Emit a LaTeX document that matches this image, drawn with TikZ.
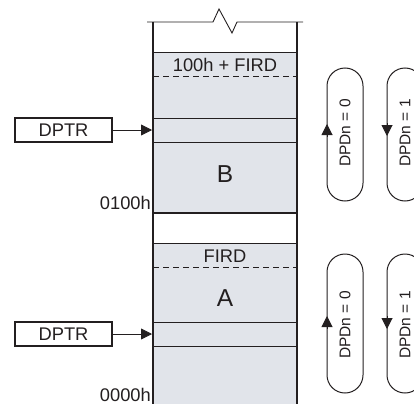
\documentclass[tikz,border=0pt]{standalone}
\usepackage{fontspec}
\setmainfont{Liberation Sans}
\usetikzlibrary{arrows.meta}
\definecolor{memgray}{RGB}{225,228,234}
\definecolor{ink}{RGB}{35,31,32}
\tikzset{
  lbl/.style={font=\fontsize{18.3}{21}\selectfont, text=ink, inner sep=0pt},
  big/.style={font=\fontsize{24.5}{28}\selectfont, text=ink, inner sep=0pt},
  rot/.style={font=\fontsize{15.5}{18}\selectfont, text=ink, inner sep=0pt, rotate=90},
  dptr/.style={draw=ink, line width=1.6pt, minimum width=97pt, minimum height=24pt, inner sep=0pt, font=\fontsize{18.3}{21}\selectfont, text=ink},
  ptr/.style={draw=ink, line width=0.8pt, -{Triangle[length=11pt,width=11pt]}},
  thinline/.style={draw=ink, line width=0.9pt},
  dashline/.style={draw=ink, line width=0.9pt, dash pattern=on 6pt off 4pt},
  sideline/.style={draw=ink, line width=2pt},
  loopline/.style={draw=ink, line width=1pt, rounded corners=18pt},
  looparrow/.style={draw=ink, line width=1pt, -{Triangle[length=11pt,width=11pt]}}
}
\begin{document}
\begin{tikzpicture}[x=1pt,y=-1pt]
\useasboundingbox (0,0) rectangle (414,404);
% memory column fills
\fill[memgray] (153,52) rectangle (297,213);
\fill[memgray] (153,243) rectangle (297,404);
% horizontal separators
\draw[thinline] (153,52) -- (297,52);
\draw[dashline] (153,76) -- (297,76);
\draw[thinline] (153,118) -- (297,118);
\draw[thinline] (153,142) -- (297,142);
\draw[sideline] (153,213) -- (297,213);
\draw[thinline] (153,243) -- (297,243);
\draw[dashline] (153,267) -- (297,267);
\draw[thinline] (153,322) -- (297,322);
\draw[thinline] (153,346) -- (297,346);
% top break line
\draw[thinline, line join=miter] (147,22) -- (213,22) -- (219,9) -- (232,33) -- (237,22) -- (303,22);
% sides
\draw[sideline] (153,22) -- (153,404);
\draw[sideline] (297,22) -- (297,404);
% labels in column
\node[lbl] (l100) at (225,65) {100h + FIRD};
\node[big] (lB) at (225,174) {B};
\node[lbl] (lfird) at (225,256) {FIRD};
\node[big] (lA) at (225,298) {A};
% address labels
\node[lbl, anchor=east] (a100) at (151,203) {0100h};
\node[lbl, anchor=east] (a000) at (151,395) {0000h};
% DPTR pointers
\node[dptr] (d1) at (63.5,130) {DPTR};
\coordinate (t1) at (152,130);
\draw[ptr] (d1) -- (t1);
\node[dptr] (d2) at (63.5,334) {DPTR};
\coordinate (t2) at (152,334);
\draw[ptr] (d2) -- (t2);
% direction loops, upper
\draw[loopline] (327,68) rectangle (363,201);
\draw[looparrow] (327,137) -- (327,124);
\node[rot] (u0) at (345,133) {DPDn = 0};
\draw[loopline] (387,68) rectangle (423,201);
\draw[looparrow] (387,123) -- (387,136);
\node[rot] (u1) at (405,133) {DPDn = 1};
% direction loops, lower
\draw[loopline] (327,254) rectangle (363,393);
\draw[looparrow] (327,329) -- (327,316);
\node[rot] (b0) at (345,325) {DPDn = 0};
\draw[loopline] (387,254) rectangle (423,393);
\draw[looparrow] (387,316) -- (387,329);
\node[rot] (b1) at (405,325) {DPDn = 1};
\end{tikzpicture}
\end{document}
